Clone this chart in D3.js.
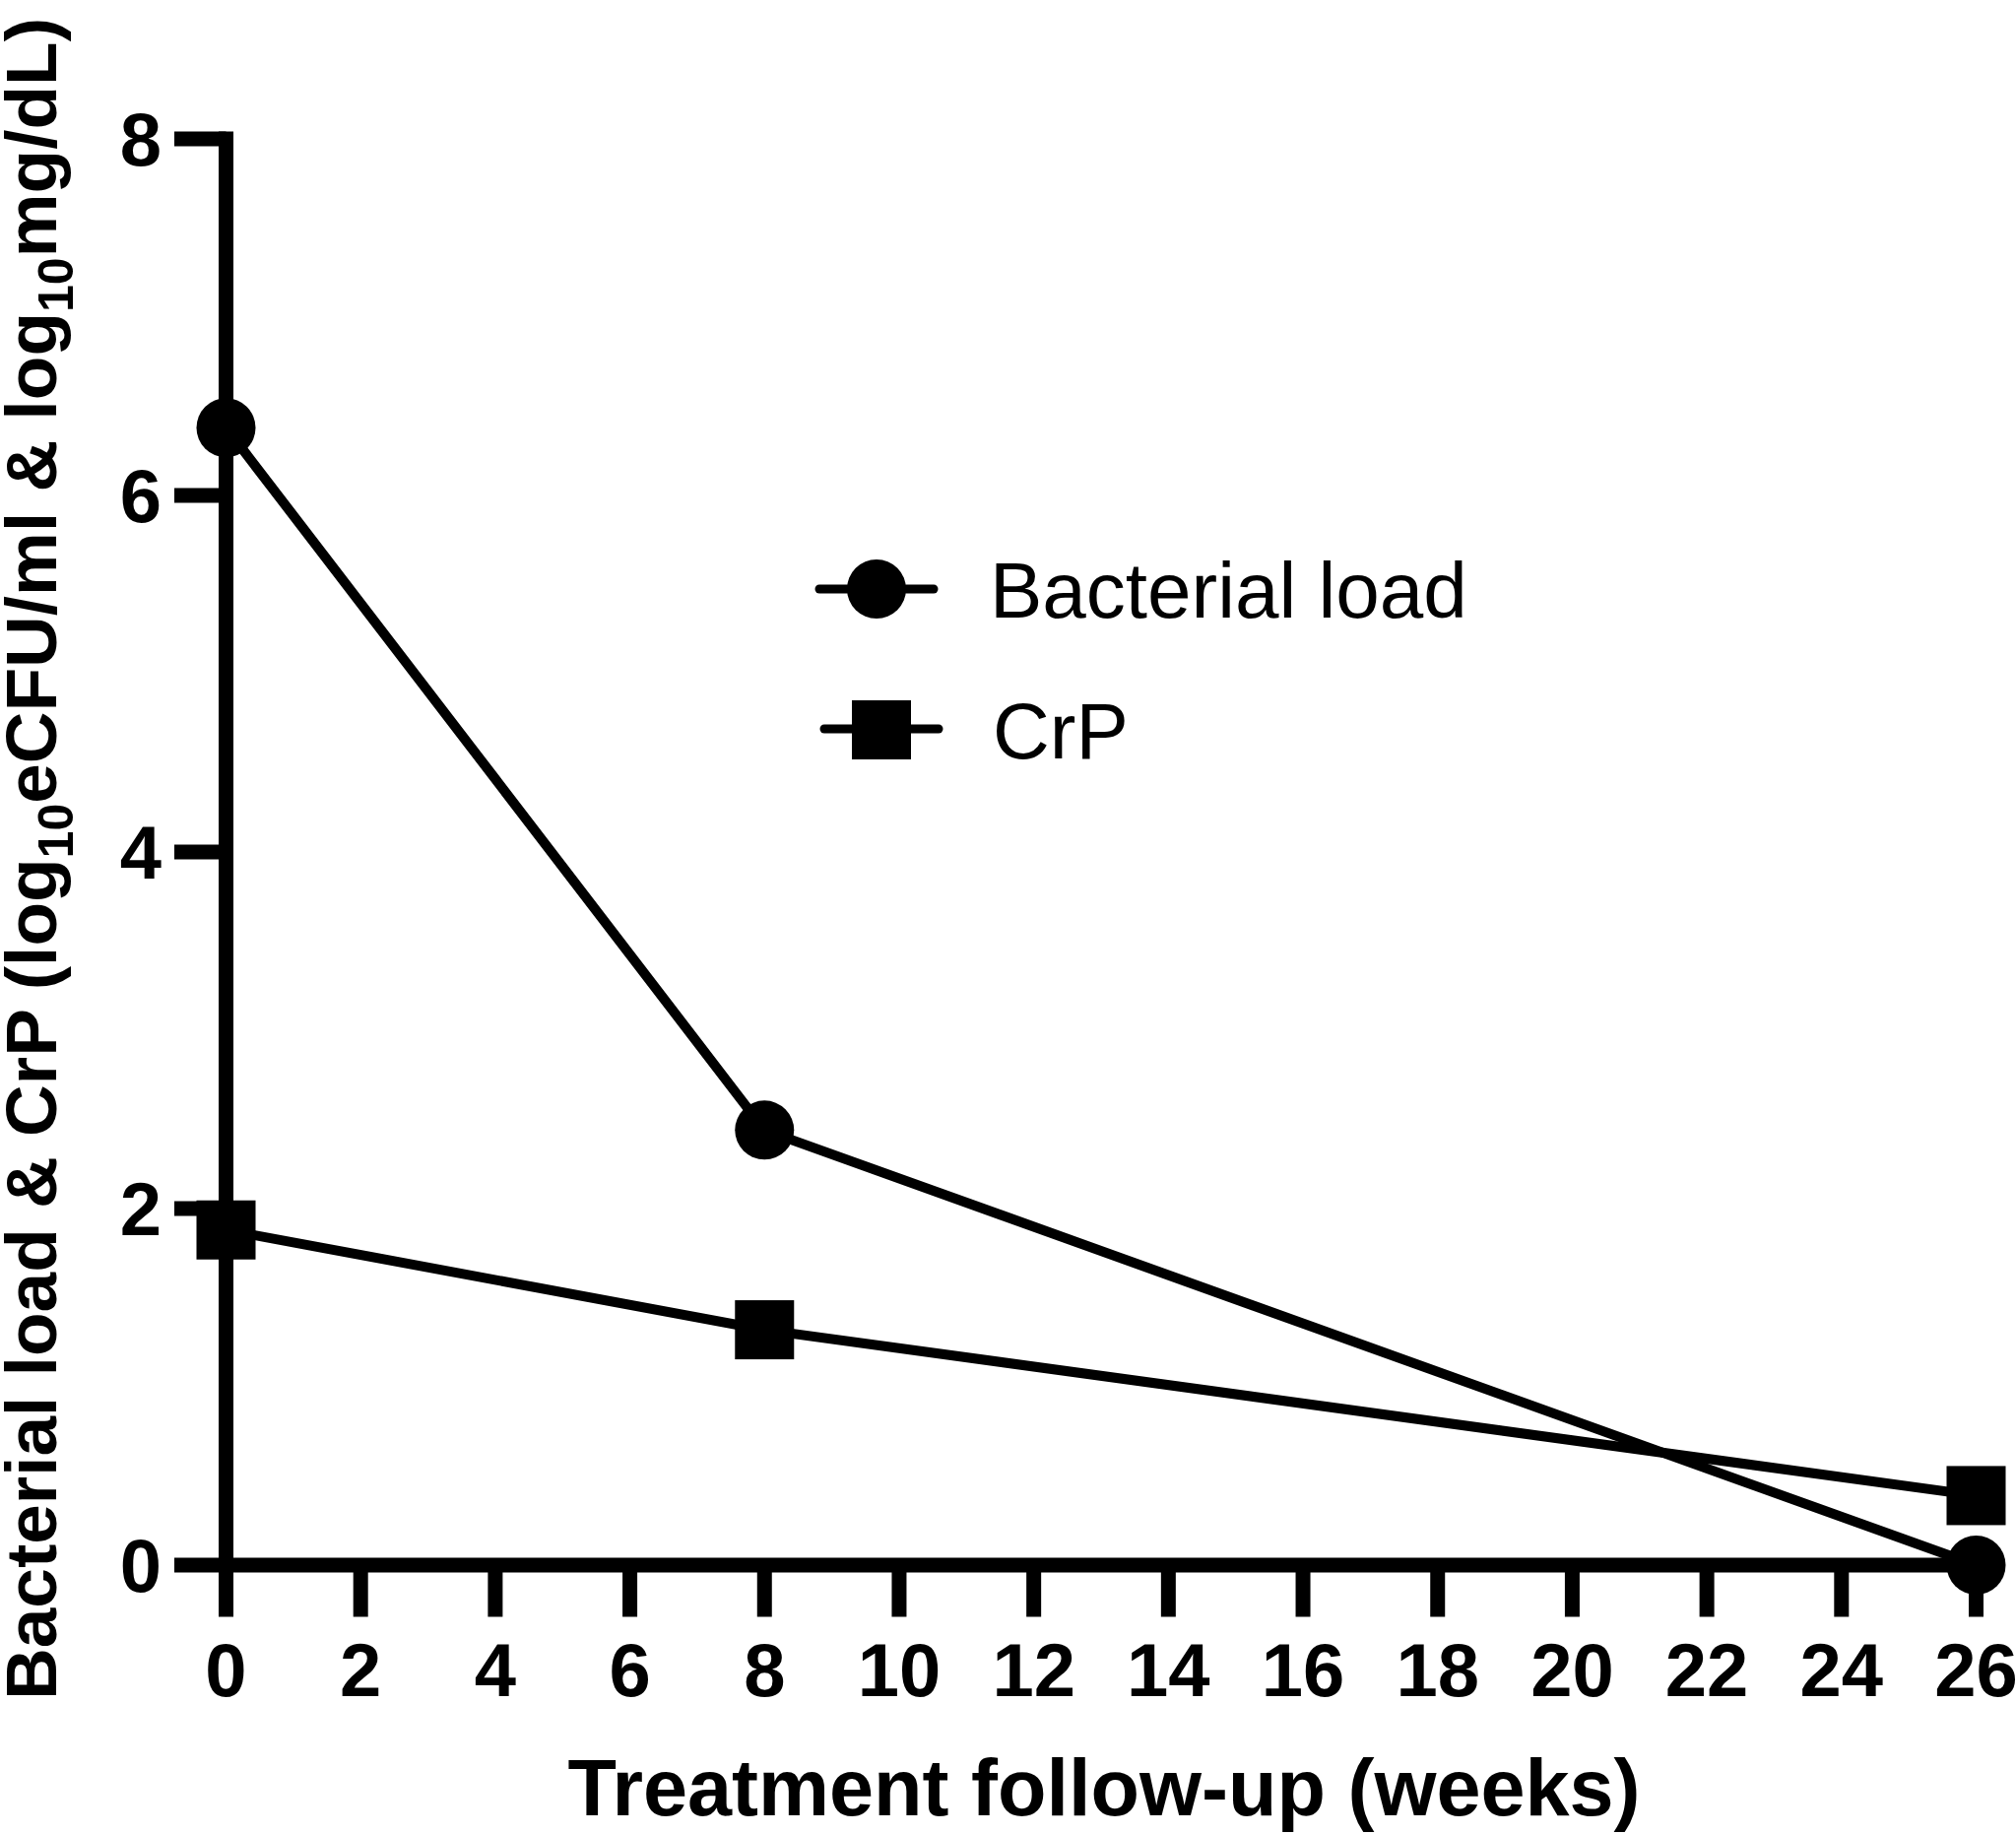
<!DOCTYPE html>
<html>
<head>
<meta charset="utf-8">
<script src="https://cdn.jsdelivr.net/npm/d3@7"></script>
<style>
  html, body { margin: 0; padding: 0; background: #fff; }
  svg { display: block; }
  text { font-family: "Liberation Sans", Arial, Helvetica, sans-serif; fill: #000; }
</style>
</head>
<body>
<script>
// ---- data ----
const weeks = [0, 8, 26];
const bacterialLoad = [6.38, 2.44, 0];
const crp = [1.88, 1.32, 0.39];
const xTickValues = [0, 2, 4, 6, 8, 10, 12, 14, 16, 18, 20, 22, 24, 26];
const yTickValues = [0, 2, 4, 6, 8];
const seriesNames = ["Bacterial load", "CrP"];
const xTitle = "Treatment follow-up (weeks)";

const W = 2047, H = 1862;
const svg = d3.select("body").append("svg").attr("width", W).attr("height", H);

const x = d3.scaleLinear().domain([0, 26]).range([229.5, 2006.5]);
const y = d3.scaleLinear().domain([0, 8]).range([1589, 141]);

const AXW = 15;      // axis stroke
const LW = 10;       // data line stroke

// ---- y axis ----
const gy = svg.append("g").attr("transform", `translate(${x(0)},0)`)
  .call(d3.axisLeft(y).tickValues(yTickValues).tickSize(52.5).tickSizeOuter(0).tickPadding(13).offset(0));
gy.select(".domain").attr("d", `M0,${y(0)}V${y(8)}`)
  .attr("stroke", "#000").attr("stroke-width", AXW).attr("stroke-linecap", "square").attr("fill", "none");
gy.selectAll(".tick line").attr("stroke", "#000").attr("stroke-width", AXW);
gy.selectAll(".tick text").attr("font-size", 76).attr("font-weight", "bold").attr("dy", "0.36em")
  .attr("font-family", '"Liberation Sans", Arial, sans-serif').attr("fill", "#000");

// ---- x axis ----
const gx = svg.append("g").attr("transform", `translate(0,${y(0)})`)
  .call(d3.axisBottom(x).tickValues(xTickValues).tickSize(52.5).tickSizeOuter(0).tickPadding(26.5).offset(0));
gx.select(".domain").attr("d", `M${x(0)},0H${x(26)}`)
  .attr("stroke", "#000").attr("stroke-width", AXW).attr("stroke-linecap", "square").attr("fill", "none");
gx.selectAll(".tick line").attr("stroke", "#000").attr("stroke-width", AXW);
gx.selectAll(".tick text").attr("font-size", 76).attr("font-weight", "bold")
  .attr("font-family", '"Liberation Sans", Arial, sans-serif').attr("fill", "#000");

// ---- axis titles ----
svg.append("text")
  .attr("x", 1121).attr("y", 1843)
  .attr("text-anchor", "middle")
  .attr("font-size", 81).attr("font-weight", "bold")
  .text(xTitle);

const yt = svg.append("text")
  .attr("transform", "translate(57,1726) rotate(-90)")
  .attr("text-anchor", "start")
  .attr("font-size", 73).attr("font-weight", "bold");
const yParts = [
  ["Bacterial load & CrP (log", false],
  ["10", true],
  ["eCFU/ml & log", false],
  ["10", true],
  ["mg/dL)", false]
];
let shifted = false;
yParts.forEach(([t, sub]) => {
  const ts = yt.append("tspan").text(t);
  if (sub) { ts.attr("font-size", 50).attr("dy", 17); shifted = true; }
  else if (shifted) { ts.attr("dy", -17); shifted = false; }
});

// ---- data lines ----
const bData = weeks.map((w, i) => ({ w, v: bacterialLoad[i] }));
const cData = weeks.map((w, i) => ({ w, v: crp[i] }));
const line = d3.line().x(d => x(d.w)).y(d => y(d.v));

svg.append("path").datum(cData).attr("d", line)
  .attr("fill", "none").attr("stroke", "#000").attr("stroke-width", LW).attr("stroke-linejoin", "miter");
svg.append("path").datum(bData).attr("d", line)
  .attr("fill", "none").attr("stroke", "#000").attr("stroke-width", LW).attr("stroke-linejoin", "miter");

const SQ = 60, R = 30;
svg.selectAll("rect.crp").data(cData).enter().append("rect")
  .attr("class", "crp")
  .attr("x", d => x(d.w) - SQ / 2).attr("y", d => y(d.v) - SQ / 2)
  .attr("width", SQ).attr("height", SQ).attr("fill", "#000");
svg.selectAll("circle.bac").data(bData).enter().append("circle")
  .attr("class", "bac")
  .attr("cx", d => x(d.w)).attr("cy", d => y(d.v)).attr("r", R).attr("fill", "#000");

// ---- legend ----
const leg = svg.append("g");
// Bacterial load
leg.append("line").attr("x1", 832).attr("x2", 948).attr("y1", 598).attr("y2", 598)
  .attr("stroke", "#000").attr("stroke-width", 9).attr("stroke-linecap", "round");
leg.append("circle").attr("cx", 890).attr("cy", 598).attr("r", R).attr("fill", "#000");
leg.append("text").attr("x", 1005).attr("y", 627).attr("font-size", 80).text(seriesNames[0]);
// CrP
leg.append("line").attr("x1", 837).attr("x2", 953).attr("y1", 740).attr("y2", 740)
  .attr("stroke", "#000").attr("stroke-width", 9).attr("stroke-linecap", "round");
leg.append("rect").attr("x", 895 - SQ / 2).attr("y", 741 - SQ / 2).attr("width", SQ).attr("height", SQ).attr("fill", "#000");
leg.append("text").attr("x", 1008).attr("y", 770).attr("font-size", 80).text(seriesNames[1]);
</script>
</body>
</html>
